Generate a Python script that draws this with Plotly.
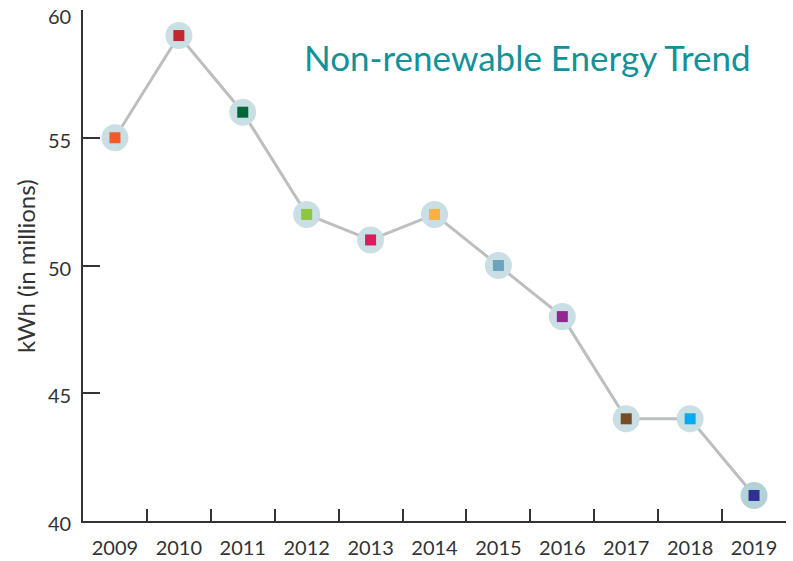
import plotly.graph_objects as go

years = ["2009", "2010", "2011", "2012", "2013", "2014", "2015", "2016", "2017", "2018", "2019"]
values = [55, 59, 56, 52, 51, 52, 50, 48, 44, 44, 41]
square_colors = ["#f15a29", "#c1272d", "#006838", "#8dc63f", "#da1c5c", "#fbb040",
                 "#6aa5bd", "#92278f", "#754c24", "#00aeef", "#2e3192"]
halo_colors = ["#c9dfe3"] * 10 + ["#b2d2d7"]
y_ticks = [40, 45, 50, 55, 60]
title_text = "Non-renewable Energy Trend"
y_title = "kWh (in millions)"

FONT = "Lato, Open Sans, sans-serif"
L, R, T, B = 83, 7, 10, 40
W, H = 793, 561
PW = W - L - R
PH = H - T - B

fig = go.Figure()
fig.add_trace(go.Scatter(
    x=years, y=values, mode="lines",
    line=dict(color="#bcbec0", width=3), hoverinfo="skip", showlegend=False))
fig.add_trace(go.Scatter(
    x=years, y=values, mode="markers",
    marker=dict(symbol="circle", size=27, color=halo_colors, line=dict(width=0)),
    hoverinfo="skip", showlegend=False))
fig.add_trace(go.Scatter(
    x=years, y=values, mode="markers",
    marker=dict(symbol="square", size=11, color=square_colors, line=dict(width=0)),
    showlegend=False))

annotations = [
    dict(text=title_text, x=(753 - L) / PW, y=(H - B - 57) / PH,
         xref="paper", yref="paper", xanchor="right", yanchor="middle",
         showarrow=False, font=dict(size=35, color="#13919b", family=FONT)),
    dict(text=y_title, x=(25 - L) / PW, y=(H - B - 266) / PH,
         xref="paper", yref="paper", xanchor="center", yanchor="middle",
         textangle=-90, showarrow=False,
         font=dict(size=24, color="#333333", family=FONT)),
]
top_tick = max(y_ticks)
for v in y_ticks:
    annotations.append(dict(
        text=str(v), x=0, xshift=-10, y=v, xref="paper", yref="y",
        xanchor="right", yanchor="middle", yshift=(-6 if v == top_tick else -2),
        showarrow=False, font=dict(size=20, color="#333333", family=FONT)))

fig.update_layout(
    width=W, height=H,
    margin=dict(l=L, r=R, t=T, b=B, autoexpand=False),
    paper_bgcolor="white", plot_bgcolor="white",
    font=dict(family=FONT, color="#333333", size=20),
    annotations=annotations,
)
fig.update_xaxes(
    type="category", range=[-0.5, 10.5], tickson="boundaries",
    showline=True, linecolor="#333333", linewidth=2,
    ticks="inside", ticklen=12, tickcolor="#333333", tickwidth=1.5,
    showgrid=False, zeroline=False, automargin=False, ticklabelstandoff=8,
    tickfont=dict(size=20, color="#333333"))
fig.update_yaxes(
    range=[40, 60], tickvals=y_ticks, showticklabels=False,
    showline=True, linecolor="#333333", linewidth=2,
    ticks="inside", ticklen=17, tickcolor="#333333", tickwidth=2,
    showgrid=False, zeroline=False, automargin=False)

fig.write_html("out.html", config={"displayModeBar": False},
               post_script="document.body.style.margin='0';")
